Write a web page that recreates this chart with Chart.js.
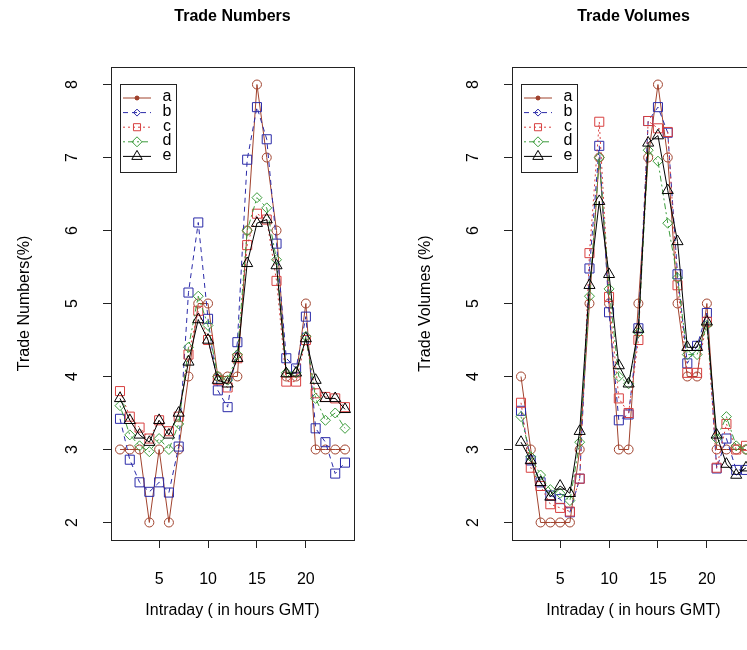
<!DOCTYPE html>
<html>
<head>
<meta charset="utf-8">
<script src="https://cdn.jsdelivr.net/npm/chart.js@4/dist/chart.umd.min.js"></script>
<style>
  html, body { margin: 0; padding: 0; background: #fff; overflow: hidden; }
  body { width: 747px; height: 650px; position: relative; }
  canvas { position: absolute; top: 0; }
</style>
</head>
<body>
<canvas id="numbers" width="400" height="650" style="left:0px"></canvas>
<canvas id="volumes" width="400" height="650" style="left:401px"></canvas>
<script>
// hours of the day (GMT)
const hours = [1, 2, 3, 4, 5, 6, 7, 8, 9, 10, 11, 12, 13, 14, 15, 16, 17, 18, 19, 20, 21, 22, 23, 24]
const seriesNames = ['a', 'b', 'c', 'd', 'e']
const xTicks = [5, 10, 15, 20]
const yTicks = [2, 3, 4, 5, 6, 7, 8]

// Trade Numbers (%)
const numA = [3, 3, 3, 2, 3, 2, 3, 4, 5, 5, 4, 4, 4, 6, 8, 7, 6, 4, 4, 5, 3, 3, 3, 3]
const numB = [3.42, 2.86, 2.55, 2.42, 2.55, 2.41, 3.04, 5.15, 6.11, 4.79, 3.81, 3.58, 4.47, 6.97, 7.69, 7.25, 5.82, 4.25, 4.11, 4.82, 3.29, 3.10, 2.67, 2.82]
const numC = [3.80, 3.45, 3.30, 3.15, 3.40, 3.25, 3.45, 4.30, 4.90, 4.50, 3.95, 3.85, 4.25, 5.80, 6.23, 6.15, 5.31, 3.93, 3.93, 4.50, 3.77, 3.72, 3.70, 3.58]
const numD = [3.60, 3.20, 3.05, 2.97, 3.15, 3.00, 3.35, 4.40, 5.10, 4.70, 4.00, 3.95, 4.30, 6.00, 6.45, 6.31, 5.60, 4.05, 4.05, 4.55, 3.70, 3.40, 3.50, 3.29]
const numE = [3.70, 3.40, 3.20, 3.10, 3.40, 3.20, 3.50, 4.20, 4.78, 4.50, 3.95, 3.90, 4.25, 5.55, 6.10, 6.15, 5.52, 4.04, 4.05, 4.52, 3.95, 3.70, 3.70, 3.55]

// Trade Volumes (%)
const volA = [4, 3, 2, 2, 2, 2, 3, 5, 7, 5, 3, 3, 5, 7, 8, 7, 5, 4, 4, 5, 3, 3, 3, 3]
const volB = [3.53, 2.85, 2.55, 2.37, 2.32, 2.14, 2.60, 5.48, 7.16, 4.88, 3.40, 3.48, 4.66, 7.50, 7.69, 7.34, 5.40, 4.18, 4.42, 4.87, 2.74, 3.15, 2.72, 2.72]
const volC = [3.64, 2.75, 2.50, 2.25, 2.20, 2.15, 2.60, 5.69, 7.49, 5.09, 3.70, 3.50, 4.50, 7.50, 7.40, 7.35, 5.25, 4.05, 4.05, 4.75, 2.75, 3.35, 3.00, 3.05]
const volD = [3.45, 2.90, 2.65, 2.45, 2.40, 2.30, 3.10, 5.10, 7.00, 5.20, 4.00, 3.90, 4.60, 7.10, 6.95, 6.10, 5.35, 4.30, 4.30, 4.70, 3.15, 3.45, 3.05, 3.00]
const volE = [3.10, 2.85, 2.55, 2.35, 2.50, 2.40, 3.25, 5.25, 6.40, 5.40, 4.15, 3.90, 4.65, 7.20, 7.30, 6.55, 5.85, 4.40, 4.40, 4.75, 3.20, 2.80, 2.65, 2.75]

const colors = ['#a0422d', '#2a2aa8', '#d84040', '#3c9c3c', '#000000']
const dashes = [[], [5, 4], [2, 3], [2, 3, 6, 3], []]
const pointStyles = ['circle', 'rect', 'rect', 'rectRot', 'triangle']
const pointRadii = [4.5, 6.4, 6.4, 5, 6.4]
const legendStyles = ['circle', 'rectRot', 'rect', 'rectRot', 'triangle']
const legendRadii = [2, 3.5, 5, 5, 6]

const FONT = '"Liberation Sans", Arial, sans-serif'

const frame = {
  id: 'frame',
  afterDraw(chart, args, opts) {
    const {ctx, chartArea: {left, right, top, bottom}} = chart
    const yScale = chart.scales.y
    ctx.save()
    ctx.strokeStyle = '#222'
    ctx.lineWidth = 1
    ctx.strokeRect(left + 0.5, top + 0.5, right - left, bottom - top)

    ctx.fillStyle = '#000'
    ctx.textAlign = 'center'
    ctx.textBaseline = 'middle'
    ctx.font = 'bold 16px ' + FONT
    ctx.fillText(opts.title, (left + right) / 2, 17)

    ctx.font = '16px ' + FONT
    ctx.fillText(opts.xTitle, (left + right) / 2, 611)

    ctx.save()
    ctx.translate(25, (top + bottom) / 2)
    ctx.rotate(-Math.PI / 2)
    ctx.fillText(opts.yTitle, 0, 0)
    ctx.restore()

    yScale.ticks.forEach(t => {
      ctx.save()
      ctx.translate(left - 38, yScale.getPixelForValue(t.value))
      ctx.rotate(-Math.PI / 2)
      ctx.fillText(String(t.value), 0, 0)
      ctx.restore()
    })

    // legend box
    const lx = left + 9, ly = top + 17
    ctx.strokeRect(lx + 0.5, ly + 0.5, 56, 88)
    chart.data.datasets.forEach((ds, i) => {
      const y = ly + 14 + i * 14.6
      ctx.save()
      ctx.strokeStyle = ds.borderColor
      ctx.setLineDash(ds.borderDash)
      ctx.beginPath()
      ctx.moveTo(lx + 3, y)
      ctx.lineTo(lx + 31, y)
      ctx.stroke()
      ctx.setLineDash([])
      ctx.fillStyle = i === 0 ? ds.borderColor : 'rgba(0,0,0,0)'
      Chart.helpers.drawPoint(ctx, {pointStyle: legendStyles[i], radius: legendRadii[i], borderWidth: 1}, lx + 17, y)
      if (i === 0) ctx.fill()
      ctx.restore()
      ctx.fillStyle = '#000'
      ctx.font = '16px ' + FONT
      ctx.fillText(ds.label, lx + 47, y - 1)
    })
    ctx.restore()
  }
}

const makeChart = (id, title, yTitle, series) => {
  const datasets = series.map((values, i) => ({
    label: seriesNames[i],
    data: hours.map((h, k) => ({x: h, y: values[k]})),
    borderColor: colors[i],
    borderWidth: 1,
    borderDash: dashes[i],
    pointStyle: pointStyles[i],
    pointRadius: pointRadii[i],
    pointBorderColor: colors[i],
    pointBackgroundColor: 'rgba(0,0,0,0)',
    pointBorderWidth: 1,
    tension: 0,
    order: 4 - i
  }))
  return new Chart(document.getElementById(id), {
    type: 'line',
    data: {datasets},
    plugins: [frame],
    options: {
      responsive: false,
      animation: false,
      layout: {padding: {top: 67, right: 46, left: 0, bottom: 0}},
      plugins: {
        legend: {display: false},
        tooltip: {enabled: false},
        frame: {title, yTitle, xTitle: 'Intraday ( in hours GMT)'}
      },
      scales: {
        x: {
          type: 'linear',
          min: 0.08,
          max: 24.92,
          afterBuildTicks: s => { s.ticks = xTicks.map(v => ({value: v})) },
          afterFit: s => { s.height = 110 },
          grid: {drawOnChartArea: false, tickLength: 8, color: '#222'},
          border: {display: false},
          ticks: {color: '#000', font: {family: FONT, size: 16}, padding: 22, maxRotation: 0}
        },
        y: {
          min: 1.76,
          max: 8.24,
          afterBuildTicks: s => { s.ticks = yTicks.map(v => ({value: v})) },
          afterFit: s => { s.width = 111 },
          grid: {drawOnChartArea: false, tickLength: 8, color: '#222'},
          border: {display: false},
          ticks: {display: false}
        }
      }
    }
  })
}

makeChart('numbers', 'Trade Numbers', 'Trade Numbers(%)', [numA, numB, numC, numD, numE])
makeChart('volumes', 'Trade Volumes', 'Trade Volumes (%)', [volA, volB, volC, volD, volE])
</script>
</body>
</html>
